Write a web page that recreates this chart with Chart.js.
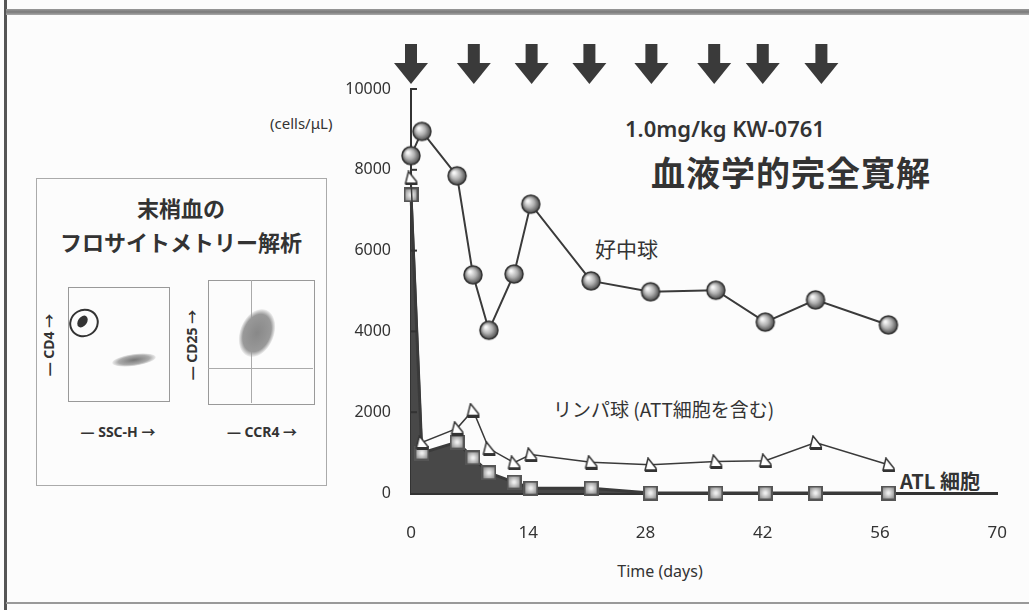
<!DOCTYPE html>
<html>
<head>
<meta charset="utf-8">
<script src="https://cdn.jsdelivr.net/npm/chart.js@4/dist/chart.umd.min.js"></script>
<style>
  body { margin: 0; background: #fcfcfc; width: 1029px; height: 610px; overflow: hidden; position: relative;
         font-family: "Noto Sans", "Noto Sans CJK JP", sans-serif; color: #333; }
  .abs { position: absolute; white-space: nowrap; }
  #wrap { position: absolute; left: 300px; top: 40px; width: 729px; height: 570px; }
  .jp { font-family: "Noto Sans CJK JP", "Noto Sans", sans-serif; }
</style>
</head>
<body>
<!-- slide frame -->
<div class="abs" style="left:4px;top:0;width:3px;height:610px;background:#555"></div>
<div class="abs" style="left:6px;top:9px;width:1023px;height:6px;background:linear-gradient(#999,#7a7a7a,#aaa)"></div>
<div class="abs" style="left:6px;top:602px;width:1023px;height:2px;background:#999"></div>

<!-- flow cytometry panel -->
<div class="abs" style="left:36px;top:178px;width:289px;height:306px;border:1px solid #aaa"></div>
<div class="abs jp" style="left:36px;top:190px;width:290px;text-align:center;font-size:22px;font-weight:bold;line-height:34px">末梢血の<br>フロサイトメトリー解析</div>
<div class="abs" style="left:68px;top:287px;width:100px;height:113px;border:1px solid #999"></div>
<div class="abs" style="left:69px;top:309px;width:26px;height:24px;border:2px solid #333;border-radius:50%;transform:rotate(-30deg)"></div>
<div class="abs" style="left:78px;top:315px;width:9px;height:13px;background:#333;border-radius:50%;transform:rotate(35deg)"></div>
<div class="abs" style="left:112px;top:354px;width:44px;height:12px;border-radius:50%;background:radial-gradient(ellipse,#777 0%,#aaa 50%,rgba(200,200,200,0) 75%);transform:rotate(-8deg)"></div>
<div class="abs" style="left:208px;top:280px;width:105px;height:123px;border:1px solid #999"></div>
<div class="abs" style="left:251px;top:280px;width:1px;height:123px;background:#aaa"></div>
<div class="abs" style="left:208px;top:368px;width:105px;height:1px;background:#aaa"></div>
<div class="abs" style="left:240px;top:308px;width:34px;height:50px;border-radius:50%;background:radial-gradient(ellipse,#888 0%,#999 55%,rgba(200,200,200,0) 72%);transform:rotate(22deg)"></div>
<div class="abs" style="left:66px;top:421px;width:104px;text-align:center;font-size:14px;font-weight:bold">— SSC-H →</div>
<div class="abs" style="left:208px;top:421px;width:108px;text-align:center;font-size:14px;font-weight:bold">— CCR4 →</div>
<div class="abs" style="left:0px;top:335px;width:96px;text-align:center;font-size:14px;font-weight:bold;transform:rotate(-90deg)">— CD4 →</div>
<div class="abs" style="left:143px;top:335px;width:96px;text-align:center;font-size:14px;font-weight:bold;transform:rotate(-90deg)">— CD25 →</div>

<!-- chart texts -->
<div class="abs" style="left:270px;top:113px;font-size:15px">(cells/μL)</div>
<div class="abs" style="left:625px;top:113px;font-size:22px;font-weight:600">1.0mg/kg KW-0761</div>
<div class="abs jp" style="left:651px;top:147px;font-size:34px;font-weight:bold;letter-spacing:1px">血液学的完全寛解</div>
<div class="abs jp" style="left:595px;top:233px;font-size:21px">好中球</div>
<div class="abs jp" style="left:553px;top:395px;font-size:19px">リンパ球 (ATT細胞を含む)</div>
<div class="abs jp" style="left:900px;top:466px;font-size:20px;font-weight:bold">ATL 細胞</div>
<div class="abs" style="left:610px;top:560px;width:100px;text-align:center;font-size:16px">Time (days)</div>

<div id="wrap"><canvas id="chart"></canvas></div>

<script>
// days of each measurement
var days = [0, 1.3, 5.5, 7.4, 9.3, 12.3, 14.3, 21.5, 28.6, 36.4, 42.3, 48.3, 57];
// neutrophils (好中球)
var neutrophils = [8350, 8950, 7850, 5400, 4030, 5420, 7150, 5250, 4980, 5020, 4230, 4780, 4160];
// lymphocytes (リンパ球)
var lymphocytes = [7800, 1250, 1600, 2050, 1100, 750, 950, 760, 700, 780, 800, 1250, 700];
// ATL cells
var atlCells = [7380, 990, 1260, 870, 500, 270, 120, 120, 0, 0, 0, 0, 0];
// dosing (arrows)
var doseDays = [0, 7.5, 14.4, 21.3, 28.7, 36.2, 42, 49];
var xTicks = [0, 14, 28, 42, 56, 70];
var yTicks = [0, 2000, 4000, 6000, 8000, 10000];

function ballImg(r) {
    var c = document.createElement('canvas');
    c.width = c.height = 2 * r + 4;
    var g = c.getContext('2d');
    var cx = r + 2;
    var grd = g.createRadialGradient(cx - r * 0.35, cx - r * 0.35, 1, cx, cx, r);
    grd.addColorStop(0, '#f6f6f6');
    grd.addColorStop(0.5, '#b0b0b0');
    grd.addColorStop(1, '#4a4a4a');
    g.beginPath();
    g.arc(cx, cx, r, 0, Math.PI * 2);
    g.fillStyle = grd;
    g.fill();
    g.lineWidth = 1.5;
    g.strokeStyle = '#333';
    g.stroke();
    return c;
}

function squareImg(s) {
    var c = document.createElement('canvas');
    c.width = c.height = s;
    var g = c.getContext('2d');
    g.fillStyle = '#555';
    g.fillRect(0, 0, s, s);
    var grd = g.createRadialGradient(s / 2, s / 2, 1, s / 2, s / 2, s / 2);
    grd.addColorStop(0, '#eeeeee');
    grd.addColorStop(1, '#8a8a8a');
    g.fillStyle = grd;
    g.fillRect(2, 2, s - 4, s - 4);
    return c;
}

function lymphImg() {
    var c = document.createElement('canvas');
    c.width = 15; c.height = 15;
    var g = c.getContext('2d');
    g.beginPath();
    g.moveTo(5, 1);
    g.lineTo(13, 11);
    g.lineTo(13, 13);
    g.lineTo(2, 13);
    g.closePath();
    g.fillStyle = '#fff';
    g.fill();
    g.lineWidth = 1.5;
    g.strokeStyle = '#333';
    g.stroke();
    g.fillStyle = '#333';
    g.fillRect(2, 12, 12, 3);
    return c;
}

function toXY(vals) {
    return days.map(function (d, i) { return { x: d, y: vals[i] }; });
}

var arrowsPlugin = {
    id: 'arrows',
    afterDraw: function (chart) {
        var ctx = chart.ctx;
        var xs = chart.scales.x;
        var ys = chart.scales.y;
        ctx.save();
        ctx.fillStyle = '#3a3a3a';
        doseDays.forEach(function (d) {
            var px = xs.getPixelForValue(d);
            ctx.fillRect(px - 6, 4, 12, 22);
            ctx.beginPath();
            ctx.moveTo(px - 17, 23);
            ctx.lineTo(px + 17, 23);
            ctx.lineTo(px, 44);
            ctx.closePath();
            ctx.fill();
        });
        // inside tick marks on the y axis
        ctx.strokeStyle = '#333';
        ctx.lineWidth = 2;
        yTicks.forEach(function (v) {
            if (v === 0) return;
            var py = ys.getPixelForValue(v);
            ctx.beginPath();
            ctx.moveTo(chart.chartArea.left, py);
            ctx.lineTo(chart.chartArea.left + 6, py);
            ctx.stroke();
        });
        ctx.restore();
    }
};

new Chart(document.getElementById('chart'), {
    type: 'scatter',
    data: {
        datasets: [{
            label: 'ATL',
            data: toXY(atlCells),
            showLine: true,
            borderColor: '#3a3a3a',
            borderWidth: 3,
            fill: 'origin',
            backgroundColor: '#484848',
            pointStyle: squareImg(15),
            order: 3
        }, {
            label: 'Lymphocytes',
            data: toXY(lymphocytes),
            showLine: true,
            borderColor: '#3a3a3a',
            borderWidth: 1.5,
            pointStyle: lymphImg(),
            order: 2
        }, {
            label: 'Neutrophils',
            data: toXY(neutrophils),
            showLine: true,
            borderColor: '#3a3a3a',
            borderWidth: 2,
            pointStyle: ballImg(9),
            order: 1
        }]
    },
    options: {
        responsive: true,
        maintainAspectRatio: false,
        animation: false,
        clip: false,
        layout: { padding: { top: 49, right: 31, left: 0, bottom: 0 } },
        plugins: { legend: { display: false }, tooltip: { enabled: false } },
        scales: {
            x: {
                type: 'linear',
                min: 0,
                max: 70,
                afterBuildTicks: function (s) { s.ticks = xTicks.map(function (v) { return { value: v }; }); },
                afterFit: function (s) { s.height = 117; },
                ticks: { color: '#333', font: { family: 'Noto Sans', size: 17 }, padding: 22,
                         callback: function (v) { return String(v); } },
                grid: { display: false },
                border: { color: '#333', width: 3 }
            },
            y: {
                min: 0,
                max: 10000,
                afterBuildTicks: function (s) { s.ticks = yTicks.map(function (v) { return { value: v }; }); },
                afterFit: function (s) { s.width = 111; },
                ticks: { color: '#333', font: { family: 'Noto Sans', size: 16 }, padding: 12,
                         callback: function (v) { return String(v); } },
                grid: { display: false },
                border: { color: '#333', width: 2 }
            }
        }
    },
    plugins: [arrowsPlugin]
});
</script>
</body>
</html>
